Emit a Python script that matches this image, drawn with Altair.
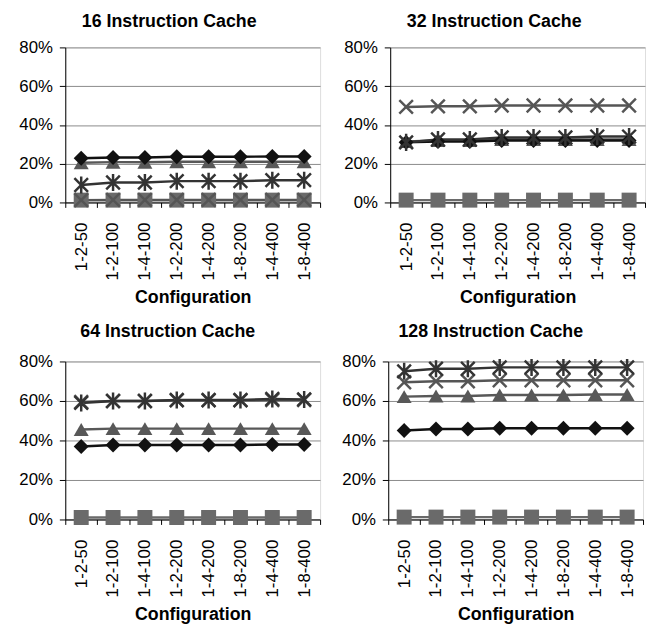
import altair as alt
import pandas as pd

configs = ["1-2-50", "1-2-100", "1-4-100", "1-2-200", "1-4-200", "1-8-200", "1-4-400", "1-8-400"]
series = ["Square", "Triangle", "Diamond", "X", "Asterisk"]
panels = ["16 Instruction Cache", "32 Instruction Cache", "64 Instruction Cache", "128 Instruction Cache"]

# values in percent, one list per series per panel
p16_square = [1.2, 1.2, 1.2, 1.2, 1.2, 1.2, 1.2, 1.2]
p16_triangle = [20.5, 20.8, 20.8, 21.0, 21.0, 21.0, 21.0, 21.0]
p16_diamond = [22.8, 23.2, 23.2, 23.6, 23.6, 23.6, 23.7, 23.7]
p16_x = [1.2, 1.3, 1.3, 1.3, 1.3, 1.3, 1.3, 1.3]
p16_asterisk = [9.0, 10.3, 10.3, 11.0, 11.0, 11.0, 11.5, 11.5]

p32_square = [1.2, 1.2, 1.2, 1.2, 1.2, 1.2, 1.2, 1.2]
p32_triangle = [31.5, 32.0, 32.0, 32.5, 32.5, 32.5, 32.5, 32.5]
p32_diamond = [31.0, 31.5, 31.5, 32.0, 32.0, 32.0, 32.0, 32.0]
p32_x = [49.3, 49.6, 49.6, 50.0, 50.0, 50.0, 50.0, 50.0]
p32_asterisk = [31.0, 32.5, 32.5, 33.5, 33.5, 33.5, 34.0, 34.0]

p64_square = [1.0, 1.0, 1.0, 1.0, 1.0, 1.0, 1.0, 1.0]
p64_triangle = [45.5, 46.0, 46.0, 46.0, 46.0, 46.0, 46.0, 46.0]
p64_diamond = [37.0, 37.7, 37.7, 37.7, 37.7, 37.7, 38.0, 38.0]
p64_x = [59.5, 60.0, 60.0, 60.3, 60.3, 60.3, 60.5, 60.5]
p64_asterisk = [59.0, 60.0, 60.0, 60.5, 60.5, 60.5, 61.0, 60.8]

p128_square = [1.2, 1.2, 1.2, 1.2, 1.2, 1.2, 1.2, 1.2]
p128_triangle = [62.2, 62.5, 62.5, 63.0, 63.0, 63.0, 63.3, 63.3]
p128_diamond = [45.0, 45.8, 45.8, 46.2, 46.2, 46.2, 46.2, 46.2]
p128_x = [69.5, 70.0, 70.0, 70.5, 70.5, 70.5, 70.5, 70.5]
p128_asterisk = [75.0, 76.3, 76.3, 77.0, 77.0, 77.0, 77.0, 77.0]

panel_values = {
    panels[0]: [p16_square, p16_triangle, p16_diamond, p16_x, p16_asterisk],
    panels[1]: [p32_square, p32_triangle, p32_diamond, p32_x, p32_asterisk],
    panels[2]: [p64_square, p64_triangle, p64_diamond, p64_x, p64_asterisk],
    panels[3]: [p128_square, p128_triangle, p128_diamond, p128_x, p128_asterisk],
}

rows = []
for p, lists in panel_values.items():
    for s, vals in zip(series, lists):
        for c, v in zip(configs, vals):
            rows.append({"panel": p, "series": s, "config": c, "value": v / 100.0})
df = pd.DataFrame(rows)

FONT = "Liberation Sans"
X_PATH = "M-1,-1L1,1M-1,1L1,-1"
AST_PATH = "M-1,-1L1,1M-1,1L1,-1M0,-1.25L0,1.25"

color_scale = alt.Scale(domain=series, range=["#6a6a6a", "#585858", "#111111", "#555555", "#333333"])
shape_scale = alt.Scale(domain=series, range=["square", "triangle-up", "diamond", X_PATH, AST_PATH])
width_scale = alt.Scale(domain=series, range=[2.5, 2.5, 3, 2.5, 3])


def panel(name, title_offset, y_extent, h):
    base = alt.Chart(df).transform_filter(alt.datum.panel == name)
    x = alt.X("config:N", sort=configs,
              scale=alt.Scale(type="band", paddingInner=0, paddingOuter=0),
              axis=alt.Axis(title="Configuration", labelAngle=-90, tickBand="extent",
                            labelFont=FONT, labelFontSize=17, labelColor="black",
                            labelPadding=15, tickSize=5, tickColor="black",
                            domainColor="black", titleFont=FONT, titleFontSize=18,
                            titleFontWeight="bold", titleColor="black", titlePadding=9,
                            grid=False))
    y = alt.Y("value:Q", scale=alt.Scale(domain=[0, 0.8], nice=False),
              axis=alt.Axis(title=None, values=[0, 0.2, 0.4, 0.6, 0.8], format=".0%",
                            labelFont=FONT, labelFontSize=17, labelColor="black",
                            labelPadding=7, tickSize=6, tickColor="black",
                            domainColor="black", gridColor="#8a8a8a", gridWidth=1,
                            minExtent=y_extent, maxExtent=y_extent))
    lines = base.mark_line().encode(
        x=x, y=y,
        color=alt.Color("series:N", scale=color_scale, legend=None),
        strokeWidth=alt.StrokeWidth("series:N", scale=width_scale, legend=None),
    )
    filled = base.transform_filter(
        alt.FieldOneOfPredicate(field="series", oneOf=["Square", "Triangle", "Diamond"])
    ).mark_point(filled=True, size=230, opacity=1).encode(
        x=x, y=y,
        color=alt.Color("series:N", scale=color_scale, legend=None),
        shape=alt.Shape("series:N", scale=shape_scale, legend=None),
    )
    stroked = base.transform_filter(
        alt.FieldOneOfPredicate(field="series", oneOf=["X", "Asterisk"])
    ).mark_point(filled=False, size=190, strokeWidth=2.5, opacity=1).encode(
        x=x, y=y,
        color=alt.Color("series:N", scale=color_scale, legend=None),
        shape=alt.Shape("series:N", scale=shape_scale, legend=None),
    )
    return alt.layer(lines, filled, stroked).properties(
        width=258, height=h,
        title=alt.TitleParams(name, font=FONT, fontSize=18, fontWeight="bold",
                              color="black", anchor="middle", frame="bounds",
                              offset=title_offset),
    )


row1 = alt.hconcat(panel(panels[0], 8, 48, 157), panel(panels[1], 8, 48, 157), spacing=21)
row2 = alt.hconcat(panel(panels[2], 12, 51, 160), panel(panels[3], 12, 51, 160), spacing=16)

chart = alt.vconcat(row1, row2, spacing=14).properties(
    padding={"left": 6, "top": 0, "right": 0, "bottom": 0}
).configure_view(stroke=None).configure(background="white")

chart.save("out.html", embed_options={"renderer": "svg", "actions": False})
